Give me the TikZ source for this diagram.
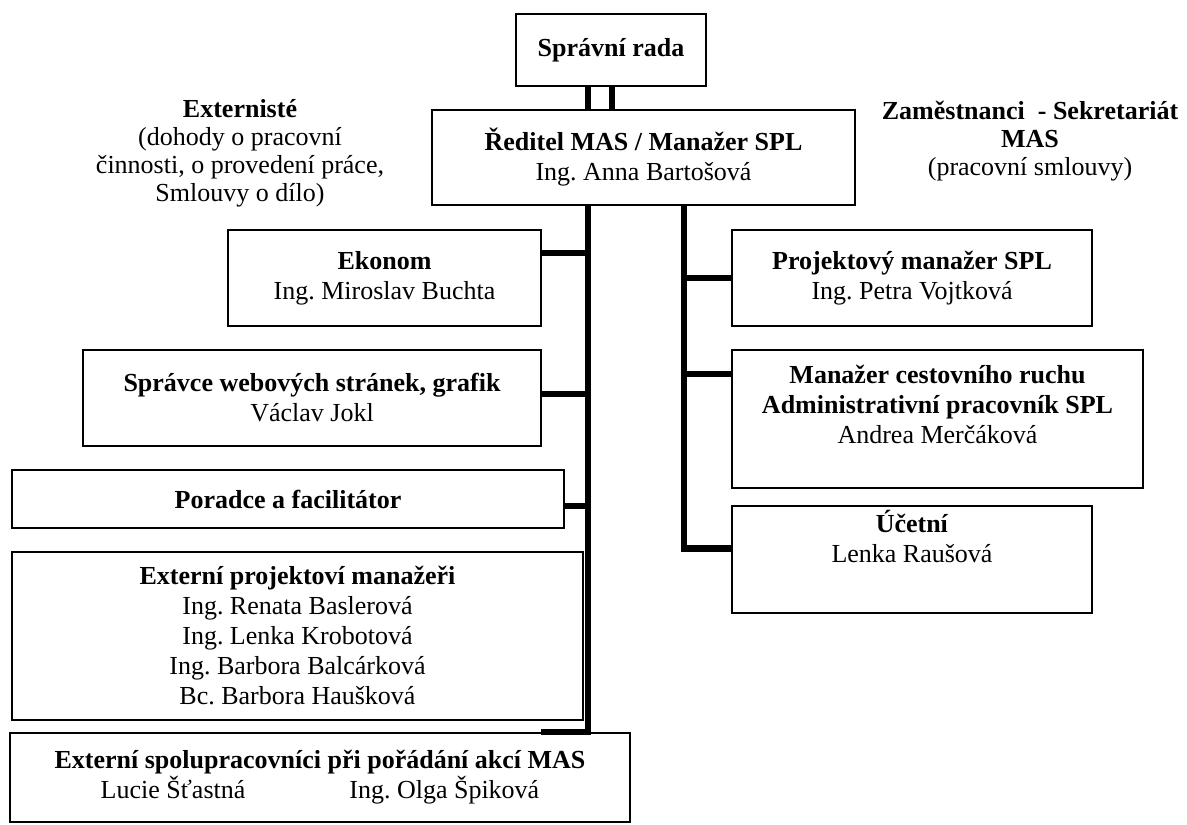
\documentclass[tikz,border=0pt]{standalone}
\usepackage{fontspec}
\setmainfont{Liberation Serif}
\frenchspacing
\usepackage{tikz}
\tikzstyle{block} = [draw, rectangle, line width=0.9pt, align=center, inner sep=2pt, font=\fontsize{13}{15}\selectfont]
\tikzstyle{note} = [align=center, font=\fontsize{13}{14}\selectfont]
\tikzstyle{link} = [draw, line width=3.3pt]

\begin{document}
\begin{tikzpicture}[auto, x=0.5pt, y=-0.5pt]
  \useasboundingbox (0,0) rectangle (1187,824);

  \node [block, minimum width=95pt, minimum height=36pt] (rada) at (611,50) {\textbf{Správní rada}};
  \node [block, minimum width=211.5pt, minimum height=47.5pt] (reditel) at (643.5,157.5)
    {\textbf{Ředitel MAS / Manažer SPL}\\Ing. Anna Bartošová};

  \node [note] (ext) at (240,153) {\textbf{Externisté}\\(dohody o pracovní\\činnosti, o provedení práce,\\Smlouvy o dílo)};
  \node [note] (zam) at (1030,141) {\textbf{Zaměstnanci\ \ - Sekretariát}\\\textbf{MAS}\\(pracovní smlouvy)};

  \node [block, minimum width=156.5pt, minimum height=48pt] (ekonom) at (384.5,278)
    {\textbf{Ekonom}\\Ing. Miroslav Buchta};
  \node [block, minimum width=229pt, minimum height=48pt] (spravce) at (312,398)
    {\textbf{Správce webových stránek, grafik}\\Václav Jokl};
  \node [block, minimum width=276pt, minimum height=29pt] (poradce) at (288,499)
    {\textbf{Poradce a facilitátor}};
  \node [block, minimum width=285.5pt, minimum height=84pt] (extpm) at (297.5,636)
    {\textbf{Externí projektoví manažeři}\\Ing. Renata Baslerová\\Ing. Lenka Krobotová\\Ing. Barbora Balcárková\\Bc. Barbora Haušková};
  \node [block, minimum width=310pt, minimum height=44.5pt] (extsp) at (320,777.5)
    {\textbf{Externí spolupracovníci při pořádání akcí MAS}\\Lucie Šťastná\hspace{52pt}Ing. Olga Špiková};

  \node [block, minimum width=180pt, minimum height=48pt] (projm) at (912,278)
    {\textbf{Projektový manažer SPL}\\Ing. Petra Vojtková};
  \node [block, minimum width=205.5pt, minimum height=69pt] (cr) at (937.5,419)
    {\textbf{Manažer cestovního ruchu}\\\textbf{Administrativní pracovník SPL}\\Andrea Merčáková\\[0pt]};
  \node [block, minimum width=180pt, minimum height=53.5pt] (ucetni) at (912,559.5)
    {\textbf{Účetní}\\Lenka Raušová\\[8pt]};

  \coordinate (lt) at (588,0);
  \coordinate (rd) at (612,0);
  \coordinate (rt) at (684,0);
  \coordinate (e1) at ([yshift=12.5pt]ekonom.east);
  \coordinate (s1) at ([yshift=2pt]spravce.east);
  \coordinate (p1) at ([yshift=-3.5pt]poradce.east);
  \coordinate (x1) at ([xshift=-45pt]extsp.north east);
  \coordinate (r1) at (projm.west);
  \coordinate (c1) at ([yshift=22.5pt]cr.west);
  \coordinate (u1) at ([yshift=5.5pt]ucetni.west);

  \draw [link] (rada.south -| lt) -- (reditel.north -| lt);
  \draw [link] (rada.south -| rd) -- (reditel.north -| rd);
  \draw [link] (reditel.south -| lt) |- (x1);
  \draw [link] (reditel.south -| rt) |- (u1);

  \draw [link] (e1) -- (e1 -| lt);
  \draw [link] (s1) -- (s1 -| lt);
  \draw [link] (p1) -- (p1 -| lt);
  \draw [link] (r1) -- (r1 -| rt);
  \draw [link] (c1) -- (c1 -| rt);
\end{tikzpicture}
\end{document}
